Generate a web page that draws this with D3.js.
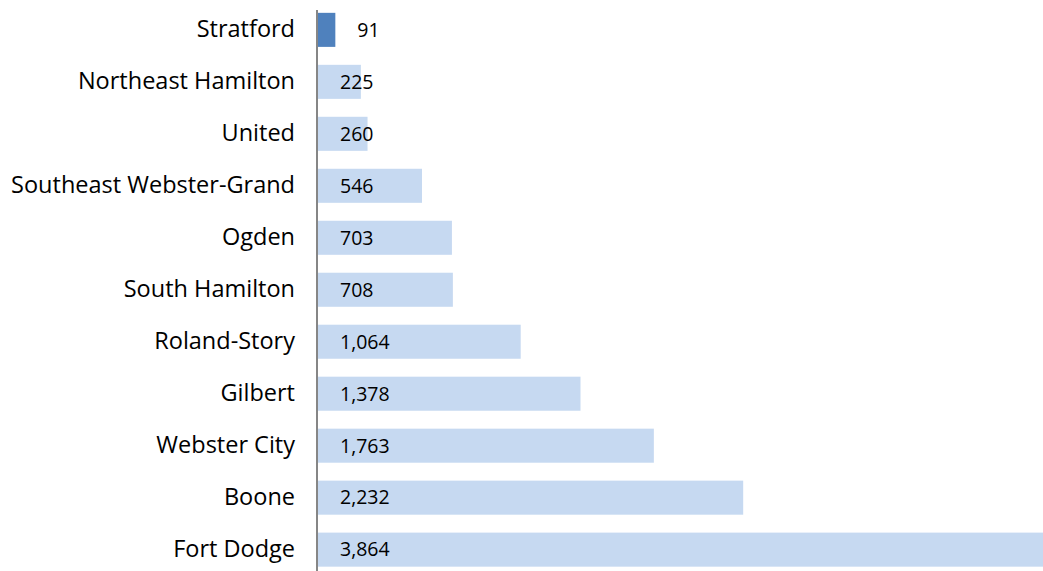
<!DOCTYPE html>
<html><head><meta charset="utf-8">
<script src="https://cdn.jsdelivr.net/npm/d3@7"></script>
<style>body{margin:0;background:#fff}svg{display:block}</style>
</head><body>
<script>
const categories = ["Stratford","Northeast Hamilton","United","Southeast Webster-Grand","Ogden","South Hamilton","Roland-Story","Gilbert","Webster City","Boone","Fort Dodge"];
const values = [91,225,260,546,703,708,1064,1378,1763,2232,3864];
const highlight = ["Stratford"];

const W = 1043, H = 571;
const svg = d3.select("body").append("svg").attr("width", W).attr("height", H);
const x = d3.scaleLinear().domain([0, 4000]).range([318, 318 + 0.1905 * 4000]);
const y = d3.scaleBand().domain(categories).range([4, 575.5]).paddingInner(0.345).paddingOuter(0.17);

const data = categories.map((c, i) => ({c, v: values[i]}));

svg.append("g").selectAll("rect").data(data).join("rect")
  .attr("x", x(0)).attr("y", d => y(d.c))
  .attr("width", d => Math.min(x(d.v), W) - x(0))
  .attr("height", y.bandwidth())
  .attr("fill", d => highlight.includes(d.c) ? "#4F81BD" : "#C6D9F1");

svg.append("g").selectAll("text").data(data).join("text")
  .attr("x", d => highlight.includes(d.c) ? x(d.v) + 22 : 340)
  .attr("y", d => y(d.c) + y.bandwidth() / 2)
  .attr("dy", "0.35em")
  .attr("font-family", "Open Sans, sans-serif").attr("font-size", 19.5)
  .attr("fill", "#000")
  .text(d => d3.format(",")(d.v));

const yAxis = d3.axisLeft(y).tickSize(0).tickPadding(22);
const g = svg.append("g").attr("transform", `translate(317,0)`).call(yAxis);
g.select(".domain").remove();
g.selectAll("text").attr("font-family", "Open Sans, sans-serif").attr("font-size", 23.5).attr("fill", "#000");

svg.append("line").attr("x1", 317).attr("x2", 317).attr("y1", 10).attr("y2", 571)
  .attr("stroke", "#868686").attr("stroke-width", 2);
</script>
</body></html>
